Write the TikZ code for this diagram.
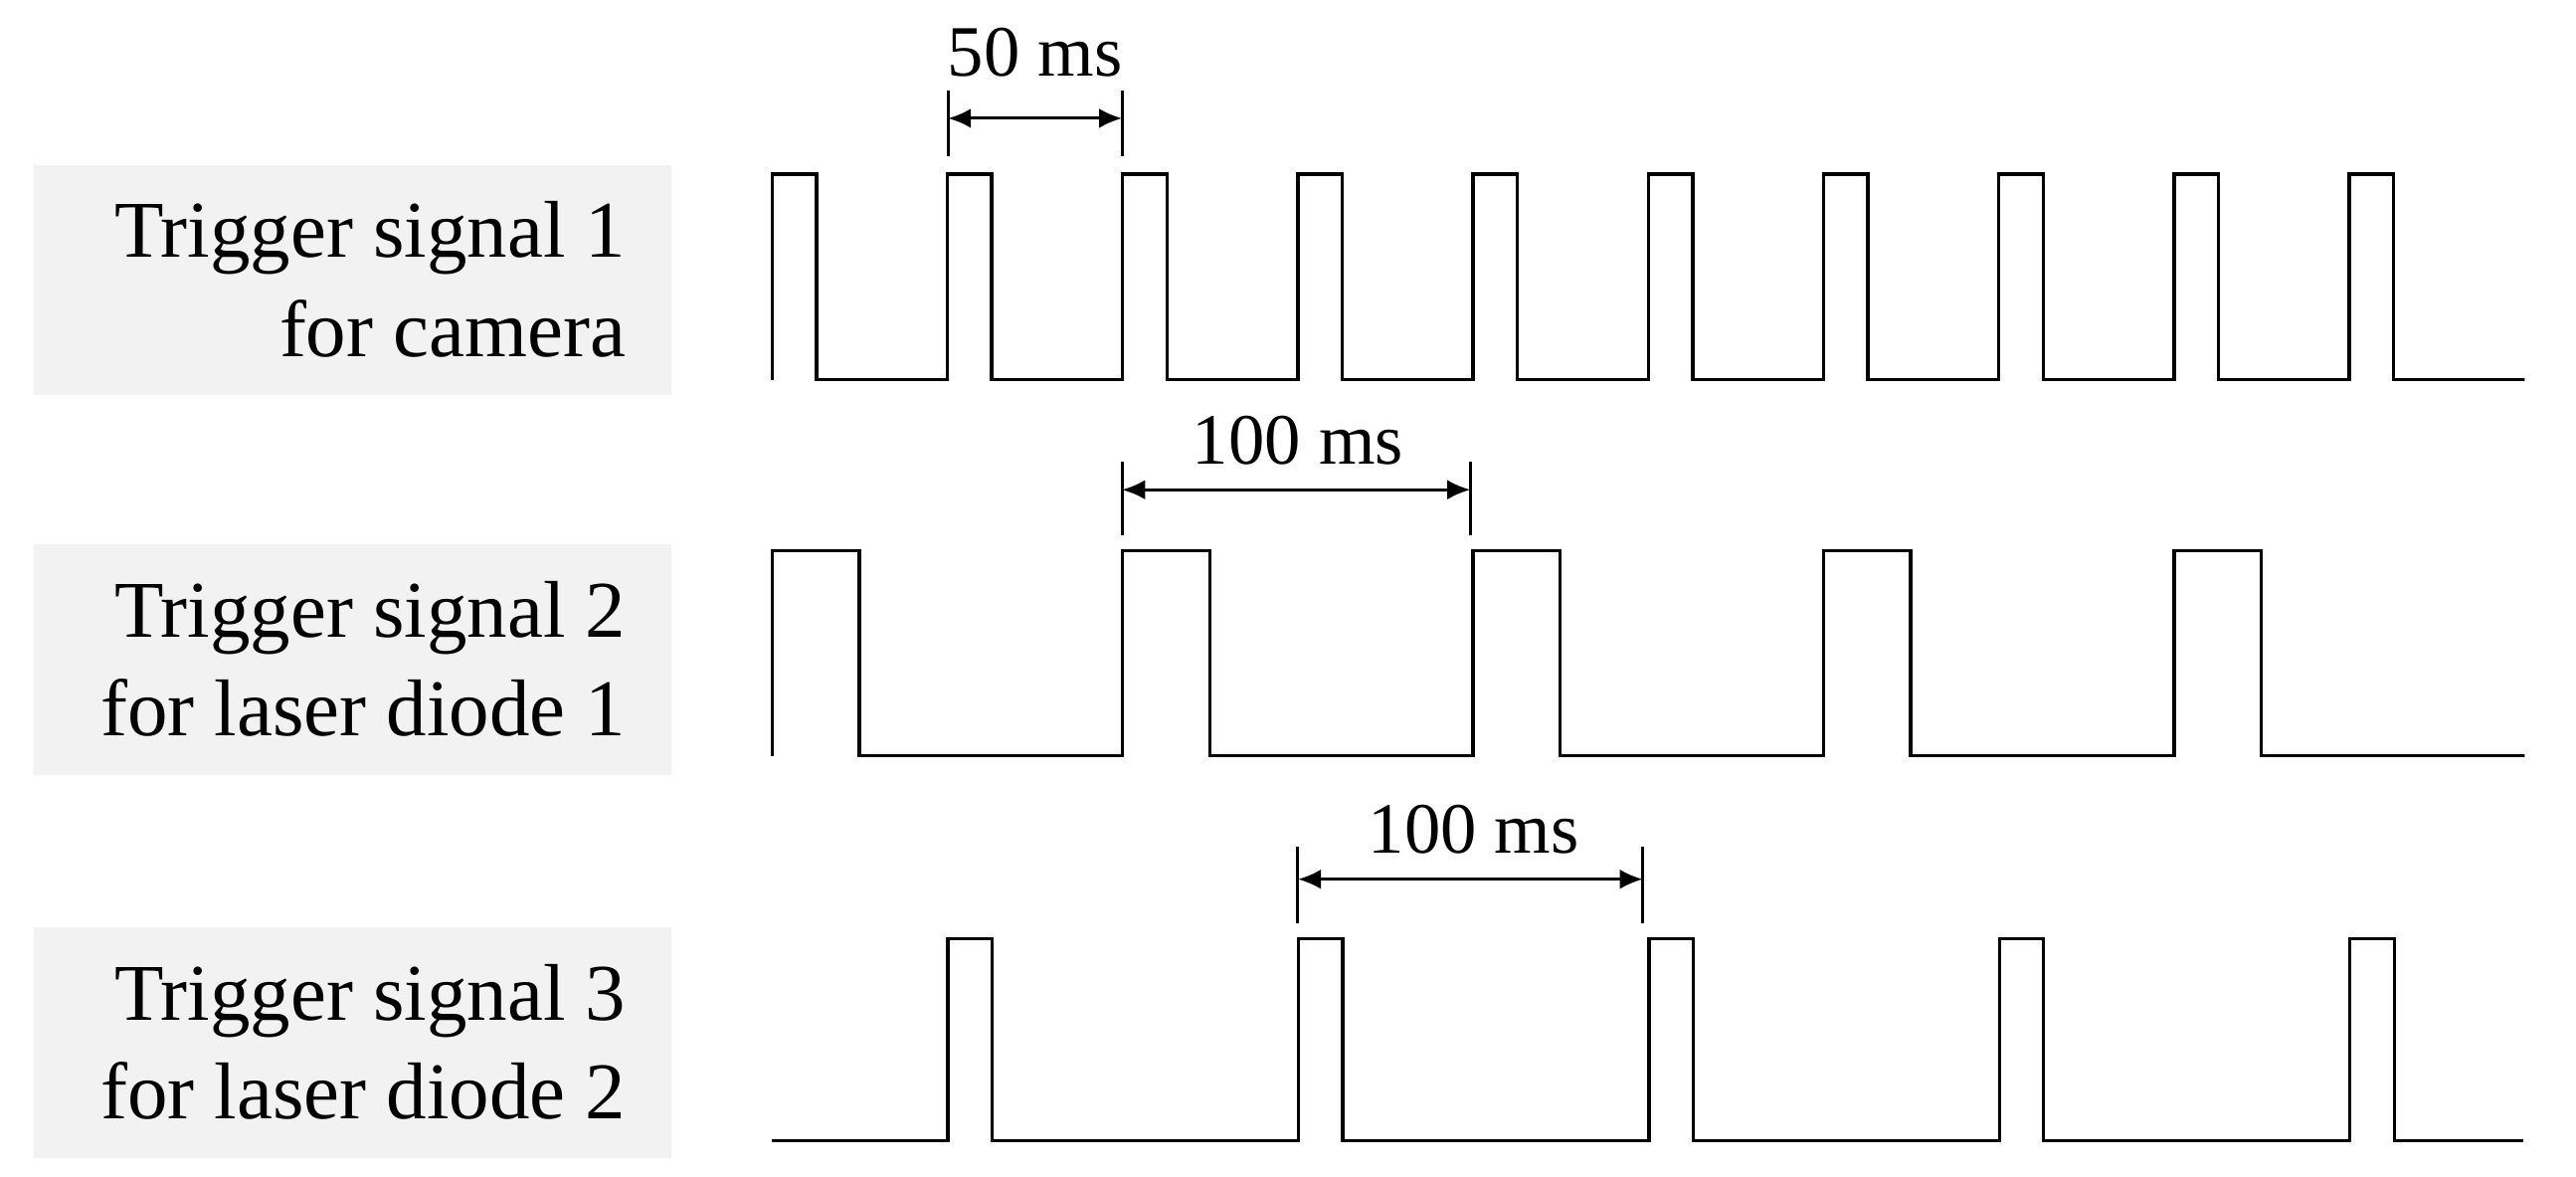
\documentclass[tikz,border=0pt]{standalone}
\usepackage{fontspec}
\setmainfont{Liberation Serif}
\usetikzlibrary{arrows.meta}
\begin{document}
\begin{tikzpicture}[x=0.5pt,y=-0.5pt,
  lab/.style={fill=gray!10,minimum width=194pt,minimum height=70pt,anchor=north west,inner sep=0pt},
  labtxt/.style={align=right,anchor=east,font=\fontsize{24.5}{30}\selectfont},
  sig/.style={line width=1pt,line join=miter},
  tick/.style={line width=0.9pt},
  dim/.style={line width=0.9pt,{Latex[length=7pt,width=6pt]}-{Latex[length=7pt,width=6pt]}},
  dimtxt/.style={font=\fontsize{22}{26}\selectfont}]
\useasboundingbox (0,0) rectangle (1568,716);
% label boxes
\node[lab] (b1) at (20,100) {};
\node[lab] (b2) at (20,331) {};
\node[lab] (b3) at (20,564) {};
\node[labtxt] (t1) at (388,170) {Trigger signal 1\\for camera};
\node[labtxt] (t2) at (388,401) {Trigger signal 2\\for laser diode 1};
\node[labtxt] (t3) at (388,634) {Trigger signal 3\\for laser diode 2};
% signal 1
\draw[sig] (470,231)
  \foreach \i in {0,...,9}{ -- ({470+106.67*\i},106) -- ({497+106.67*\i},106) -- ({497+106.67*\i},231) -- ({470+106.67*(\i+1)},231)} -- (1536,231);
% signal 2
\draw[sig] (470,460)
  \foreach \i in {0,...,4}{ -- ({470+213.33*\i},335) -- ({523+213.33*\i},335) -- ({523+213.33*\i},460) -- ({470+213.33*(\i+1)},460)} -- (1536,460);
% signal 3
\draw[sig] (470,694)
  \foreach \i in {0,...,4}{ -- ({577+213.33*\i},694) -- ({577+213.33*\i},571) -- ({604+213.33*\i},571) -- ({604+213.33*\i},694)} -- (1536,694);
% dimension 1
\coordinate (a1) at (577,72); \coordinate (a2) at (683,72);
\draw[tick] (577,55) -- (577,95); \draw[tick] (683,55) -- (683,95);
\draw[dim] (a1) -- (a2);
\node[dimtxt] (d1) at (630,32) {50 ms};
% dimension 2
\coordinate (c1) at (683,298); \coordinate (c2) at (895,298);
\draw[tick] (683,281) -- (683,326); \draw[tick] (895,281) -- (895,326);
\draw[dim] (c1) -- (c2);
\node[dimtxt] (d2) at (790,268) {100 ms};
% dimension 3
\coordinate (e1) at (790,535); \coordinate (e2) at (1000,535);
\draw[tick] (790,515) -- (790,562); \draw[tick] (1000,515) -- (1000,562);
\draw[dim] (e1) -- (e2);
\node[dimtxt] (d3) at (897,505) {100 ms};
\end{tikzpicture}
\end{document}
